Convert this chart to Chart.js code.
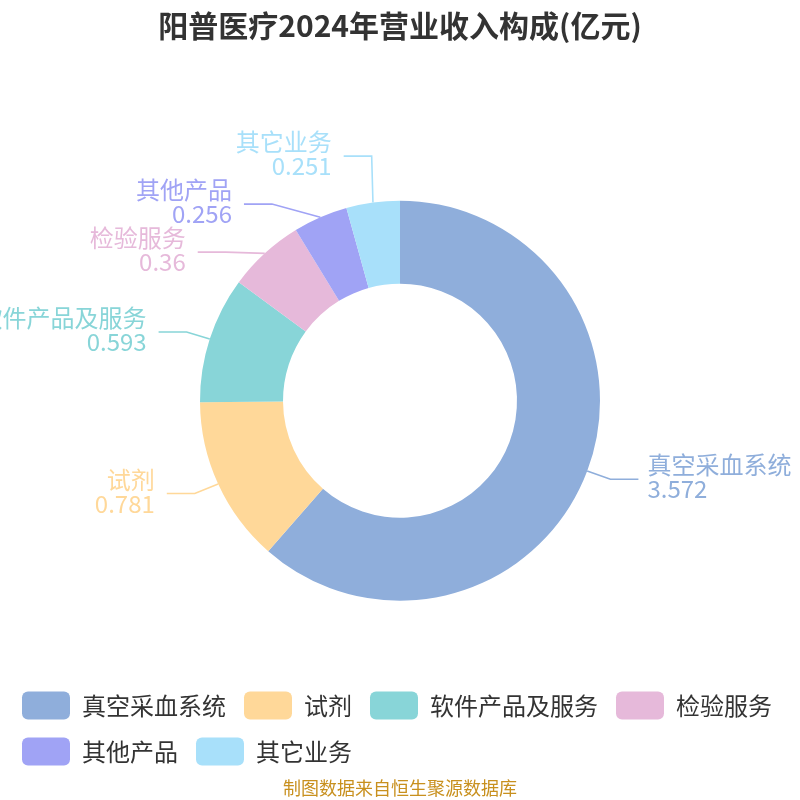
<!DOCTYPE html>
<html>
<head>
<meta charset="utf-8">
<script src="https://cdn.jsdelivr.net/npm/chart.js@4/dist/chart.umd.min.js"></script>
<style>
  html, body { margin: 0; padding: 0; background: #fff; }
  #wrap { width: 800px; height: 800px; }
</style>
</head>
<body>
<div id="wrap"><canvas id="revenueChart"></canvas></div>
<script>
const categories = ["真空采血系统", "试剂", "软件产品及服务", "检验服务", "其他产品", "其它业务"];
const revenue = [3.572, 0.781, 0.593, 0.36, 0.256, 0.251];
const sliceColors = ["#8FAEDB", "#FFD899", "#88D5D8", "#E6B9DA", "#A0A3F5", "#A8E0FA"];

const FONT = "'Noto Sans CJK SC', 'Noto Sans', sans-serif";

// outside labels with elbow leader lines
const outsideLabels = {
  id: "outsideLabels",
  afterDatasetsDraw(chart) {
    const ctx = chart.ctx;
    const arcs = chart.getDatasetMeta(0).data;
    const gap = 48;
    const items = arcs.map((arc, i) => {
      const { x, y, startAngle, endAngle, outerRadius } = arc.getProps(["x", "y", "startAngle", "endAngle", "outerRadius"], true);
      const mid = (startAngle + endAngle) / 2;
      return {
        i, cx: x, cy: y, r: outerRadius, mid,
        right: Math.cos(mid) >= 0,
        y: y + (outerRadius + 23) * Math.sin(mid)
      };
    });

    // spread overlapping labels on each side around their mean
    [true, false].forEach(side => {
      const list = items.filter(it => it.right === side).sort((a, b) => a.y - b.y);
      let groups = list.map(it => ({ members: [it], natural: [it.y] }));
      let changed = true;
      while (changed) {
        changed = false;
        groups.forEach(g => {
          const mean = g.natural.reduce((s, v) => s + v, 0) / g.natural.length;
          const start = mean - gap * (g.members.length - 1) / 2;
          g.members.forEach((m, k) => { m.y = start + k * gap; });
        });
        for (let k = 0; k < groups.length - 1; k++) {
          const a = groups[k], b = groups[k + 1];
          if (b.members[0].y - a.members[a.members.length - 1].y < gap) {
            a.members = a.members.concat(b.members);
            a.natural = a.natural.concat(b.natural);
            groups.splice(k + 1, 1);
            changed = true;
            break;
          }
        }
      }
    });

    ctx.save();
    items.forEach(it => {
      const color = sliceColors[it.i];
      const R = it.r + 51;
      const dy = it.y - it.cy;
      const dx = Math.sqrt(Math.max(R * R - dy * dy, 0));
      const endX = it.right ? it.cx + dx : it.cx - dx;
      const elbowX = it.right ? endX - 28 : endX + 28;
      const ox = it.cx + it.r * Math.cos(it.mid);
      const oy = it.cy + it.r * Math.sin(it.mid);

      ctx.strokeStyle = color;
      ctx.lineWidth = 1.6;
      ctx.beginPath();
      ctx.moveTo(ox, oy);
      ctx.lineTo(elbowX, it.y);
      ctx.lineTo(endX, it.y);
      ctx.stroke();

      ctx.fillStyle = color;
      ctx.font = "24px " + FONT;
      ctx.textBaseline = "middle";
      ctx.textAlign = it.right ? "left" : "right";
      const tx = it.right ? endX + 9 : endX - 12;
      ctx.fillText(categories[it.i], tx, it.y - 14);
      ctx.fillText(String(revenue[it.i]), tx, it.y + 10);
    });
    ctx.restore();
  }
};

new Chart(document.getElementById("revenueChart"), {
  type: "doughnut",
  data: {
    labels: categories,
    datasets: [{
      data: revenue,
      backgroundColor: sliceColors,
      borderWidth: 0,
      radius: 200,
      cutout: "58.5%"
    }]
  },
  options: {
    responsive: true,
    maintainAspectRatio: false,
    animation: false,
    events: [],
    layout: { padding: { left: 4, right: 4, top: 0, bottom: 0 } },
    plugins: {
      title: {
        display: true,
        text: "阳普医疗2024年营业收入构成(亿元)",
        color: "#333",
        font: { family: FONT, size: 30, weight: "bold" },
        padding: { top: 8, bottom: 84 }
      },
      subtitle: {
        display: true,
        position: "bottom",
        text: "制图数据来自恒生聚源数据库",
        color: "#C8901E",
        font: { family: FONT, size: 18 },
        padding: { top: 2, bottom: 1 }
      },
      legend: {
        position: "bottom",
        align: "start",
        labels: {
          boxWidth: 48,
          boxHeight: 28,
          useBorderRadius: true,
          borderRadius: 6,
          padding: 18,
          color: "#333",
          font: { family: FONT, size: 24 }
        }
      },
      tooltip: { enabled: false }
    }
  },
  plugins: [outsideLabels]
});
</script>
</body>
</html>
